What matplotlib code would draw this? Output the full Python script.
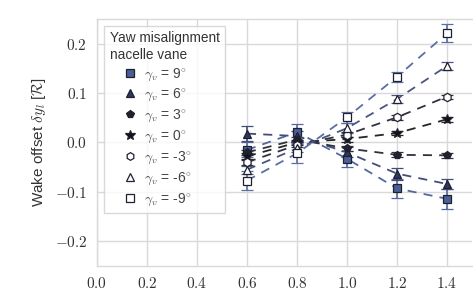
import matplotlib.pyplot as plt
from matplotlib.lines import Line2D
from matplotlib.ticker import FuncFormatter
import numpy as np

# distances downstream and wake offsets per nacelle-vane yaw angle
x = [0.6, 0.8, 1.0, 1.2, 1.4]
gammas = [9, 6, 3, 0, -3, -6, -9]
offsets = [
    [-0.015, 0.021, -0.033, -0.093, -0.114],
    [0.018, 0.013, -0.020, -0.063, -0.084],
    [-0.020, 0.006, -0.012, -0.025, -0.026],
    [-0.028, 0.000, 0.007, 0.019, 0.047],
    [-0.040, -0.005, 0.016, 0.051, 0.093],
    [-0.055, -0.012, 0.029, 0.088, 0.155],
    [-0.077, -0.022, 0.051, 0.133, 0.221],
]
errors = [
    [0.015, 0.017, 0.016, 0.020, 0.020],
    [0.015, 0.010, 0.010, 0.012, 0.010],
    [0.005, 0.005, 0.005, 0.005, 0.005],
    [0.006, 0.005, 0.005, 0.004, 0.005],
    [0.005, 0.005, 0.005, 0.005, 0.004],
    [0.008, 0.008, 0.010, 0.008, 0.008],
    [0.020, 0.020, 0.011, 0.010, 0.018],
]
markers = ['s', '^', 'p', '*', 'h', '^', 's']
line_colors = ['#5467a0', '#424d78', '#30333f', '#262626', '#30333f', '#4a5682', '#5d6ea5']
face_colors = ['#4a5f96', '#2f3660', '#22222e', '#111111', 'white', 'white', 'white']

plt.rcParams['mathtext.fontset'] = 'cm'
plt.rcParams['font.family'] = ['Liberation Sans', 'DejaVu Sans']

fig = plt.figure(figsize=(4.73, 2.92), dpi=100)
ax = fig.add_axes([0.205, 0.089, 0.793, 0.846])

handles = []
for g, y, e, m, lc, fc in zip(gammas, offsets, errors, markers, line_colors, face_colors):
    ms = 7.5 if m == '*' else 6
    ax.errorbar(x, y, yerr=e, color=lc, ls=(0, (5, 4)), lw=1.3,
                marker=m, ms=ms, mfc=fc, mec='#1e2030', mew=0.9,
                ecolor=lc, elinewidth=1.2, capsize=4, capthick=1.2, zorder=3)
    handles.append(Line2D([], [], ls='none', marker=m, ms=ms - 0.5, mfc=fc,
                          mec='#1e2030', mew=0.9,
                          label=r'$\gamma_v$ = %d$^{\circ}$' % g))

ax.set_xlim(0, 1.5)
ax.set_ylim(-0.25, 0.25)
ax.set_xticks([0.0, 0.2, 0.4, 0.6, 0.8, 1.0, 1.2, 1.4])
ax.set_yticks([-0.2, -0.1, 0.0, 0.1, 0.2])
fmt = FuncFormatter(lambda v, p: r'$%.1f$' % v)
ax.xaxis.set_major_formatter(fmt)
ax.yaxis.set_major_formatter(fmt)
ax.tick_params(length=0, labelsize=11, pad=7, colors='#333333')
ax.grid(color='#d9d9d9', lw=1.0, zorder=0)
ax.set_axisbelow(True)
for s in ax.spines.values():
    s.set_color('#d9d9d9')
    s.set_linewidth(1.0)
ax.spines['right'].set_visible(False)

ax.set_ylabel(r'Wake offset $\delta y_{l}$ [$\mathcal{R}$]', fontsize=11,
              color='#333333', labelpad=5)

leg = ax.legend(handles=handles, loc='upper left', bbox_to_anchor=(0.019, 0.972),
                borderaxespad=0, title='Yaw misalignment\nnacelle vane', fontsize=10,
                title_fontsize=9.8, frameon=True, fancybox=False,
                handlelength=3.0, handletextpad=-0.55, borderpad=0.4,
                labelspacing=0.32, labelcolor='#444444')
leg._legend_box.align = 'left'
leg.get_title().set_color('#333333')
leg.get_frame().set_edgecolor('#d0d0d0')
leg.get_frame().set_linewidth(1.0)

fig.savefig('out.png', dpi=100)
